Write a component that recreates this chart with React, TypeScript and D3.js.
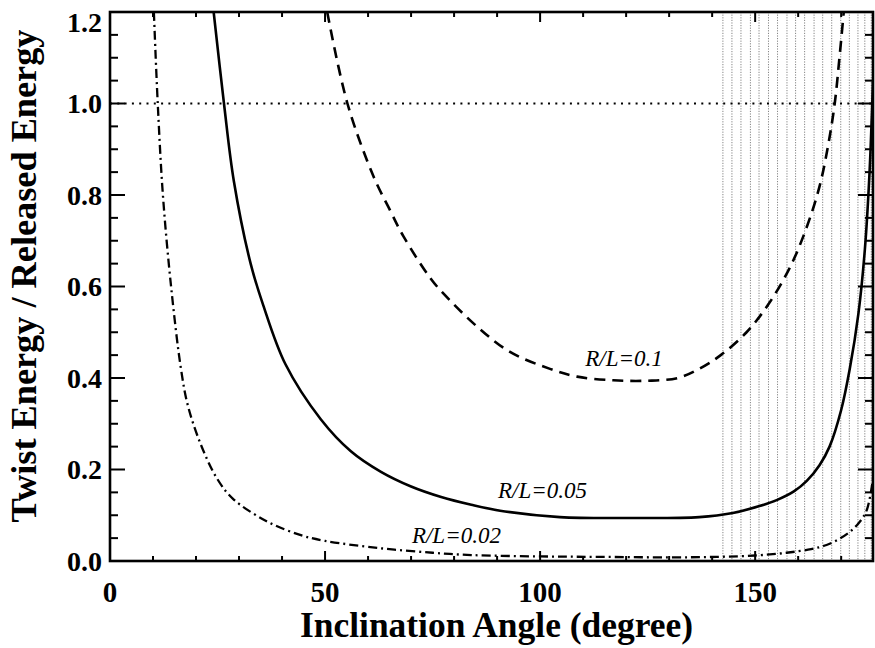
import React from "react";
import { scaleLinear, line, curveCatmullRom, range, format } from "d3";

// inclination angle (deg) / energy ratio
const rl002Angle = [10.2, 11.1, 12.3, 14.2, 16.5, 18.1, 21.1, 24.9, 28.6, 36.4, 44.2, 50, 62.8, 75, 84, 100, 114, 130, 141, 150, 157.3, 163, 166.6, 169.5, 171.9, 174, 175.9, 177.4];
const rl002Ratio = [1.2, 1.0, 0.8, 0.6, 0.42, 0.34, 0.255, 0.18, 0.136, 0.087, 0.057, 0.044, 0.028, 0.018, 0.013, 0.01, 0.009, 0.008, 0.009, 0.012, 0.018, 0.026, 0.035, 0.048, 0.063, 0.082, 0.11, 0.18];

const rl005Angle = [24.1, 26.5, 28.8, 32.7, 35.6, 40.8, 49, 56, 63, 70, 77, 84, 90.7, 104.6, 121.6, 137, 144.8, 151, 155, 159, 162, 165, 167.3, 170, 172, 174, 175.5, 176.6, 177.4];
const rl005Ratio = [1.2, 1.0, 0.83, 0.65, 0.56, 0.43, 0.31, 0.24, 0.195, 0.163, 0.14, 0.123, 0.11, 0.096, 0.094, 0.096, 0.105, 0.12, 0.133, 0.152, 0.175, 0.21, 0.25, 0.33, 0.42, 0.54, 0.68, 0.85, 1.05];

const rl01Angle = [50.5, 55.2, 61.3, 65.2, 68.2, 74.5, 77.5, 85.4, 93, 102.3, 108.6, 117, 125, 132, 137, 142, 148, 153, 158, 162, 165, 167, 168.5, 169.6, 170.6];
const rl01Ratio = [1.2, 1.0, 0.84, 0.765, 0.71, 0.618, 0.585, 0.512, 0.457, 0.42, 0.403, 0.395, 0.394, 0.4, 0.42, 0.45, 0.5, 0.56, 0.64, 0.73, 0.82, 0.91, 1.0, 1.1, 1.2];

// shaded (hatched) range of angles
const hatchAngles = [142.5, 144.6, 146.7, 148.9, 150.9, 153.1, 155.2, 157.4, 159.4, 161.5, 163.7, 165.7, 167.8, 169.9, 171.9, 173.9, 175.5, 177.0];

const angleLabels = [0, 50, 100, 150];
const ratioLabels = [0, 0.2, 0.4, 0.6, 0.8, 1.0, 1.2];

const curveLabels = ["R/L=0.1", "R/L=0.05", "R/L=0.02"];
const curveLabelAngle = [110.5, 90.2, 70.2];
const curveLabelRatio = [0.426, 0.138, 0.039];

const W = 875;
const H = 648;
const left = 110, right = 873, top = 12, bottom = 561;

const App = () => {
  const x = scaleLinear().domain([0, 177.4]).range([left, right]);
  const y = scaleLinear().domain([0, 1.2]).range([bottom, top]);

  const path = line<number[]>()
    .x(d => x(d[0]))
    .y(d => y(d[1]))
    .curve(curveCatmullRom.alpha(0.5));

  const zip = (a: number[], b: number[]) => a.map((v, i) => [v, b[i]]);

  const minorX = range(10, 177, 10);
  const minorY = range(0.05, 1.2, 0.05);
  const fmt = format(".1f");
  const serif = "'Liberation Serif', 'DejaVu Serif', serif";

  return (
    <svg width={W} height={H} style={{ position: "absolute", left: 0, top: 0, background: "white" }}>
      <defs>
        <clipPath id="plot">
          <rect x={left} y={top} width={right - left} height={bottom - top} />
        </clipPath>
      </defs>

      {/* hatch */}
      {hatchAngles.map((a, i) => (
        <line key={"h" + i} x1={x(a)} x2={x(a)} y1={top} y2={bottom}
          stroke="#666" strokeWidth={0.8} strokeDasharray="1.2,1.4" />
      ))}

      {/* reference line at 1.0 */}
      <line x1={left} x2={right} y1={y(1)} y2={y(1)} stroke="black" strokeWidth={2} strokeDasharray="2,5.3" />

      <g clipPath="url(#plot)" fill="none" stroke="black" strokeWidth={2.6}>
        <path d={path(zip(rl01Angle, rl01Ratio)) || ""} strokeDasharray="11,7" />
        <path d={path(zip(rl005Angle, rl005Ratio)) || ""} />
        <path d={path(zip(rl002Angle, rl002Ratio)) || ""} strokeWidth={2.3} strokeDasharray="9,4,2,4" />
      </g>

      {curveLabels.map((t, i) => (
        <text key={t} x={x(curveLabelAngle[i])} y={y(curveLabelRatio[i])} fontFamily={serif}
          fontStyle="italic" fontSize={23}>{t}</text>
      ))}

      {/* ticks */}
      <g stroke="black" strokeWidth={2}>
        {minorX.map(a => {
          const major = a % 50 === 0;
          const len = major ? 10 : 5;
          return (
            <g key={"tx" + a}>
              <line x1={x(a)} x2={x(a)} y1={bottom} y2={bottom - len} />
              <line x1={x(a)} x2={x(a)} y1={top} y2={top + len} />
            </g>
          );
        })}
        {minorY.map((v, i) => {
          const major = (i + 1) % 4 === 0;
          const len = major ? 15 : 8;
          return (
            <g key={"ty" + i}>
              <line x1={left} x2={left + len} y1={y(v)} y2={y(v)} />
              <line x1={right} x2={right - len} y1={y(v)} y2={y(v)} />
            </g>
          );
        })}
      </g>

      {/* frame */}
      <rect x={left} y={top} width={right - left} height={bottom - top} fill="none" stroke="black" strokeWidth={2.6} />

      {/* tick labels */}
      {angleLabels.map(a => (
        <text key={"lx" + a} x={x(a)} y={602} textAnchor="middle" fontFamily={serif}
          fontWeight="bold" fontSize={29}>{a}</text>
      ))}
      {ratioLabels.map(v => (
        <text key={"ly" + v} x={102} y={Math.max(y(v), 22)} dy="0.35em" textAnchor="end" fontFamily={serif}
          fontWeight="bold" fontSize={28}>{fmt(v)}</text>
      ))}

      {/* axis titles */}
      <text x={(300 + 693) / 2} y={637} textAnchor="middle" fontFamily={serif} fontWeight="bold"
        fontSize={35} textLength={393} lengthAdjust="spacingAndGlyphs">Inclination Angle (degree)</text>
      <text transform={`translate(36,276) rotate(-90)`} textAnchor="middle" fontFamily={serif}
        fontWeight="bold" fontSize={35} textLength={493} lengthAdjust="spacingAndGlyphs">
        Twist Energy / Released Energy
      </text>
    </svg>
  );
};

export default App;
